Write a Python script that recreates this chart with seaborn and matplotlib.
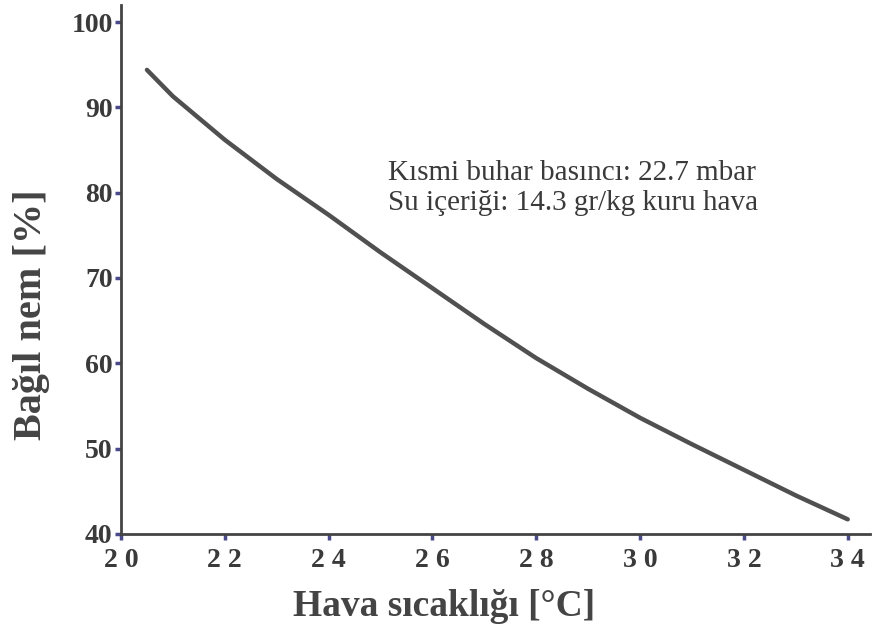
import matplotlib
matplotlib.use("Agg")
import matplotlib.pyplot as plt
import seaborn as sns
import pandas as pd

temperature = [20.5, 21, 22, 23, 24, 25, 26, 27, 28, 29, 30, 31, 32, 33, 34]
humidity = [94.4, 91.3, 86.2, 81.6, 77.4, 73.0, 68.8, 64.6, 60.6, 57.0, 53.6, 50.5, 47.5, 44.5, 41.7]
x_ticks = [20, 22, 24, 26, 28, 30, 32, 34]
y_ticks = [40, 50, 60, 70, 80, 90, 100]
note_lines = ["Kısmi buhar basıncı: 22.7 mbar", "Su içeriği: 14.3 gr/kg kuru hava"]

df = pd.DataFrame({"T": temperature, "RH": humidity})

sns.set_style("white")
plt.rcParams['font.family'] = ['Liberation Serif', 'DejaVu Serif']

fig = plt.figure(figsize=(8.73, 6.34), dpi=100)
ax = fig.add_axes([0.1386, 0.158, 0.858, 0.834])

sns.lineplot(data=df, x="T", y="RH", ax=ax, color="#505050", linewidth=3.2)

ax.set_xlim(20, 34.43)
ax.set_ylim(40, 102)
ax.set_xticks(x_ticks)
ax.set_yticks(y_ticks)
ax.set_xticklabels([" ".join(str(v)) for v in x_ticks], fontsize=20, fontweight="bold", color="#3a3a3a")
ax.set_yticklabels([str(v) for v in y_ticks], fontsize=20, fontweight="bold", color="#3a3a3a")
ax.tick_params(axis="both", direction="out", length=4, width=2.5, color="#4a4a8a",
               bottom=True, left=True, pad=2)
ax.tick_params(axis="x", pad=6)

for side in ["top", "right"]:
    ax.spines[side].set_visible(False)
for side in ["left", "bottom"]:
    ax.spines[side].set_color("#444444")
    ax.spines[side].set_linewidth(2)

ax.set_xlabel("Hava sıcaklığı [°C]", fontsize=27, fontweight="bold", color="#444444")
ax.xaxis.set_label_coords(0.431, -0.105)
ax.set_ylabel("Bağıl nem [%]", fontsize=29, fontweight="bold", color="#444444")
ax.yaxis.set_label_coords(-0.095, 0.414)

ax.text(0.357, 0.707, note_lines[0] + "\n" + note_lines[1], transform=ax.transAxes,
        fontsize=21, color="#3a3a3a", va="top", ha="left", linespacing=1.2)

fig.savefig("out.png", dpi=100, facecolor="white")
